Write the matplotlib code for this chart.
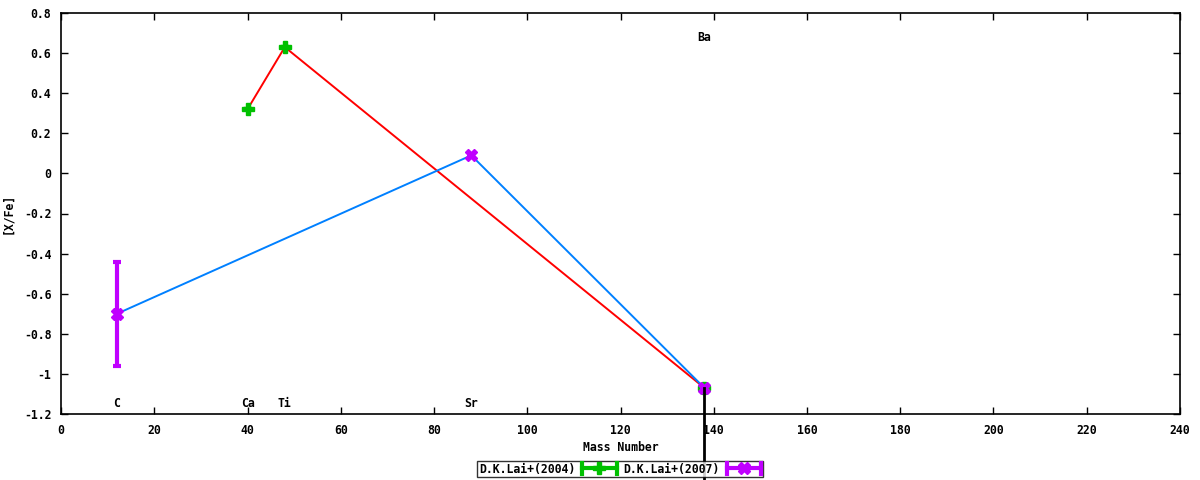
import matplotlib
matplotlib.use('Agg')
import matplotlib.pyplot as plt
from matplotlib.ticker import MultipleLocator, FuncFormatter
from matplotlib.legend_handler import HandlerBase
from matplotlib.lines import Line2D

# D.K.Lai+(2004)
lai04_mass = [40, 48, 138]
lai04_xfe  = [0.32, 0.63, -1.07]
lai04_err  = [0.0, 0.0, 0.0]

# D.K.Lai+(2007)
lai07_mass = [12, 88, 138]
lai07_xfe  = [-0.70, 0.09, -1.07]
lai07_err  = [0.26, 0.0, 0.0]

# element labels
elem_names = ['C', 'Ca', 'Ti', 'Sr', 'Ba']
elem_mass  = [12, 40, 48, 88, 138]
elem_ypos  = [-1.15, -1.15, -1.15, -1.15, 0.68]

GREEN  = '#00c000'
PURPLE = '#c000ff'
FS = 8.3


class ErrSample(HandlerBase):
    # gnuplot-like errorbar key sample: bar with end caps and a marker in the middle
    def __init__(self, marker):
        super().__init__()
        self.marker = marker

    def create_artists(self, legend, orig, xd, yd, width, height, fontsize, trans):
        c = orig.get_color()
        y = height / 2 - yd
        x0, x1 = -xd, -xd + width
        arts = [Line2D([x0, x1], [y, y], color=c, linewidth=3),
                Line2D([x0, x0], [y - 4, y + 4], color=c, linewidth=3),
                Line2D([x1, x1], [y - 4, y + 4], color=c, linewidth=3),
                Line2D([(x0 + x1) / 2], [y], color=c, marker=self.marker,
                       markersize=8, linestyle='none')]
        for a in arts:
            a.set_transform(trans)
        return arts


plt.rcParams['font.family'] = 'DejaVu Sans Mono'
plt.rcParams['font.weight'] = 'bold'
plt.rcParams['font.size'] = FS

fig = plt.figure(figsize=(12, 4.8), dpi=100)
ax = fig.add_axes([61 / 1200, 1 - 414 / 480, 1119 / 1200, 401 / 480])

ax.plot(lai04_mass, lai04_xfe, color='#ff0000', linewidth=1.4, zorder=2)
ax.plot(lai07_mass, lai07_xfe, color='#0080ff', linewidth=1.4, zorder=2)

ax.errorbar(lai04_mass, lai04_xfe, yerr=lai04_err, fmt='P', color=GREEN,
            markersize=8, elinewidth=3, capsize=3, capthick=3,
            linestyle='none', zorder=3)
ax.errorbar(lai07_mass, lai07_xfe, yerr=lai07_err, fmt='X', color=PURPLE,
            markersize=8, elinewidth=3, capsize=3, capthick=3,
            linestyle='none', zorder=4)

# black line running down from the Ba point off the axes
ax.plot([lai07_mass[2], lai07_mass[2]], [lai07_xfe[2], -1.7], color='black',
        linewidth=2, clip_on=False, zorder=5)

for name, m, y in zip(elem_names, elem_mass, elem_ypos):
    ax.text(m, y, name, ha='center', va='center', fontsize=FS, fontweight='bold')

ax.set_xlim(0, 240)
ax.set_ylim(-1.2, 0.8)
ax.xaxis.set_major_locator(MultipleLocator(20))
ax.yaxis.set_major_locator(MultipleLocator(0.2))
ax.yaxis.set_major_formatter(FuncFormatter(
    lambda v, p: '0' if abs(v) < 1e-9 else ('%g' % round(v, 1))))
ax.tick_params(direction='in', length=5, width=1, top=True, right=True,
               labelsize=FS, pad=7)
for sp in ax.spines.values():
    sp.set_linewidth(1.2)

ax.set_xlabel('Mass Number', fontsize=FS, fontweight='bold', labelpad=3)
ax.set_ylabel('[X/Fe]', fontsize=FS, fontweight='bold', labelpad=7)

h04 = Line2D([], [], color=GREEN, label='D.K.Lai+(2004)')
h07 = Line2D([], [], color=PURPLE, label='D.K.Lai+(2007)')
leg = fig.legend(handles=[h04, h07], loc='center',
                 bbox_to_anchor=(620 / 1200, 1 - 469 / 480),
                 ncol=2, markerfirst=False, frameon=True, fancybox=False,
                 edgecolor='black', fontsize=FS, handlelength=3.0,
                 borderpad=0.15, columnspacing=0.6, handletextpad=0.6,
                 borderaxespad=0,
                 handler_map={h04: ErrSample('P'), h07: ErrSample('X')})
leg.get_frame().set_linewidth(1.0)

fig.savefig('out.png', dpi=100)
